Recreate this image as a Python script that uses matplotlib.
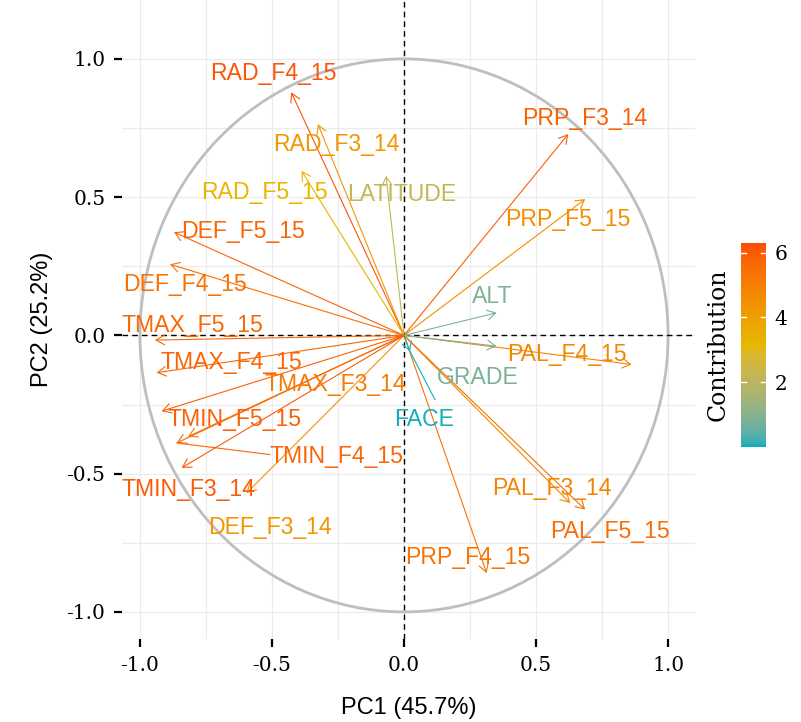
"""PCA variable correlation circle (PC1 vs PC2), coloured by contribution."""

import numpy as np
import matplotlib
matplotlib.use("Agg")
import matplotlib.pyplot as plt
from matplotlib.colors import ListedColormap, Normalize, to_rgb
from matplotlib.patches import FancyArrowPatch, Circle
from matplotlib.ticker import MultipleLocator, FormatStrFormatter

# ---- data ----------------------------------------------------------------
variables = [
    "RAD_F4_15", "RAD_F3_14", "RAD_F5_15", "LATITUDE",
    "DEF_F5_15", "DEF_F4_15", "DEF_F3_14",
    "TMAX_F5_15", "TMAX_F4_15", "TMAX_F3_14",
    "TMIN_F5_15", "TMIN_F4_15", "TMIN_F3_14",
    "PRP_F3_14", "PRP_F5_15", "PRP_F4_15",
    "PAL_F4_15", "PAL_F3_14", "PAL_F5_15",
    "ALT", "GRADE", "FACE",
]
pc1 = [-0.427, -0.326, -0.388, -0.068,
       -0.871, -0.886, -0.596,
       -0.943, -0.937, -0.818,
       -0.918, -0.861, -0.842,
       0.622, 0.686, 0.313,
       0.862, 0.629, 0.686,
       0.351, 0.351, 0.023]
pc2 = [0.879, 0.764, 0.595, 0.577,
       0.373, 0.257, -0.570,
       -0.017, -0.135, -0.366,
       -0.274, -0.389, -0.479,
       0.728, 0.493, -0.860,
       -0.105, -0.606, -0.630,
       0.082, -0.039, -0.058]
contrib = [6.12, 4.30, 3.24, 2.17,
           5.76, 5.46, 4.36,
           5.70, 5.74, 5.15,
           5.88, 5.72, 6.01,
           5.88, 4.57, 5.37,
           4.83, 4.89, 5.56,
           0.83, 0.80, 0.03]
# repelled label positions
label_x = [-0.496, -0.258, -0.527, -0.008,
           -0.610, -0.830, -0.508,
           -0.803, -0.652, -0.261,
           -0.640, -0.254, -0.818,
           0.686, 0.621, 0.242,
           0.617, 0.561, 0.780,
           0.333, 0.280, 0.076]
label_y = [0.946, 0.692, 0.518, 0.511,
           0.377, 0.185, -0.696,
           0.034, -0.098, -0.178,
           -0.304, -0.438, -0.558,
           0.783, 0.420, -0.805,
           -0.069, -0.552, -0.709,
           0.142, -0.152, -0.304]
# labels that ggrepel tied back to their point with a segment
segments = {"TMIN_F4_15": (-0.508, -0.431), "FACE": (0.117, -0.232)}

PC1_PCT = 45.7
PC2_PCT = 25.2
CBAR_TICKS = [2, 4, 6]

# ---- colour scale: gradient interpolated in CIE Lab (like ggplot) --------
GRADIENT = ["#00AFBB", "#E7B800", "#FC4E07"]
WHITE = np.array([0.95047, 1.0, 1.08883])
M = np.array([[0.4124, 0.3576, 0.1805],
              [0.2126, 0.7152, 0.0722],
              [0.0193, 0.1192, 0.9505]])


def rgb_to_lab(rgb):
    c = np.asarray(rgb, dtype=float)
    lin = np.where(c <= 0.04045, c / 12.92, ((c + 0.055) / 1.055) ** 2.4)
    xyz = (M @ lin) / WHITE
    f = np.where(xyz > 0.008856, np.cbrt(xyz), 7.787 * xyz + 16 / 116)
    return np.array([116 * f[1] - 16, 500 * (f[0] - f[1]), 200 * (f[1] - f[2])])


def lab_to_rgb(lab):
    L, a, b = lab
    fy = (L + 16) / 116
    f = np.array([fy + a / 500, fy, fy - b / 200])
    xyz = np.where(f ** 3 > 0.008856, f ** 3, (f - 16 / 116) / 7.787) * WHITE
    lin = np.linalg.solve(M, xyz)
    lin = np.clip(lin, 0, 1)
    c = np.where(lin <= 0.0031308, 12.92 * lin, 1.055 * lin ** (1 / 2.4) - 0.055)
    return np.clip(c, 0, 1)


stops = [rgb_to_lab(to_rgb(h)) for h in GRADIENT]
lut = []
for t in np.linspace(0, 1, 256):
    seg = min(int(t * 2), 1)
    u = t * 2 - seg
    lut.append(lab_to_rgb(stops[seg] * (1 - u) + stops[seg + 1] * u))
cmap = ListedColormap(lut)
norm = Normalize(vmin=0.0, vmax=6.3)

SANS = "Liberation Sans"
SERIF = "DejaVu Serif"
GRID_COL = "#EBEBEB"

fig = plt.figure(figsize=(8.01, 7.22), dpi=100)
ax = fig.add_axes([122 / 801, 1 - 639 / 722, 573 / 801, 639 / 722])

ax.set_xlim(-1.068, 1.102)
ax.set_ylim(-1.098, 1.213)
for side in ax.spines.values():
    side.set_visible(False)
ax.xaxis.set_major_locator(MultipleLocator(0.5))
ax.yaxis.set_major_locator(MultipleLocator(0.5))
ax.xaxis.set_minor_locator(MultipleLocator(0.25))
ax.yaxis.set_minor_locator(MultipleLocator(0.25))
ax.grid(True, which="both", color=GRID_COL, linewidth=0.9, zorder=0)
ax.set_axisbelow(True)
ax.tick_params(which="major", length=6, width=1.6, color="black",
               labelsize=14.5, pad=6)
ax.tick_params(which="minor", length=0)
ax.xaxis.set_major_formatter(FormatStrFormatter("%.1f"))
ax.yaxis.set_major_formatter(FormatStrFormatter("%.1f"))
for lab in ax.get_xticklabels() + ax.get_yticklabels():
    lab.set_family(SERIF)

# correlation circle and reference axes
ax.add_patch(Circle((0, 0), 1.0, fill=False, edgecolor="#BEBEBE",
                    linewidth=2.0, zorder=1))
ax.axhline(0, color="black", linestyle=(0, (4, 3)), linewidth=1.0, zorder=2)
ax.axvline(0, color="black", linestyle=(0, (4, 3)), linewidth=1.0, zorder=2)

for name, x, y, c, lx, ly in zip(variables, pc1, pc2, contrib,
                                 label_x, label_y):
    col = cmap(norm(c))
    ax.add_patch(FancyArrowPatch(
        (0, 0), (x, y), arrowstyle="->,head_length=0.6,head_width=0.35",
        mutation_scale=10, linewidth=0.8, color=col,
        shrinkA=0, shrinkB=0, zorder=3))
    if name in segments:
        sx, sy = segments[name]
        ax.plot([x, sx], [y, sy], color=col, linewidth=0.8, zorder=3)
    ax.text(lx, ly, name, color=col, fontsize=16.6, family=SANS,
            ha="center", va="center", zorder=4)

ax.set_xlabel(f"PC1 ({PC1_PCT}%)", family=SANS, fontsize=17, labelpad=16)
ax.set_ylabel(f"PC2 ({PC2_PCT}%)", family=SANS, fontsize=17, labelpad=10)

# colour bar legend
cax = fig.add_axes([741 / 801, 1 - 447 / 722, 25 / 801, 204 / 722])
grad = np.linspace(norm.vmin, norm.vmax, 256).reshape(-1, 1)
cax.imshow(grad, aspect="auto", origin="lower", cmap=cmap, norm=norm,
           extent=[0, 1, norm.vmin, norm.vmax])
for v in CBAR_TICKS:
    cax.plot([0, 0.2], [v, v], color="white", linewidth=1.0)
    cax.plot([0.8, 1], [v, v], color="white", linewidth=1.0)
cax.set_xlim(0, 1)
cax.set_ylim(norm.vmin, norm.vmax)
cax.set_xticks([])
cax.set_yticks(CBAR_TICKS)
cax.yaxis.tick_right()
cax.tick_params(length=0, labelsize=14.5, pad=6)
for lab in cax.get_yticklabels():
    lab.set_family(SERIF)
for side in cax.spines.values():
    side.set_visible(False)
cax.yaxis.set_label_position("left")
cax.set_ylabel("Contribution", family=SERIF, fontsize=17, labelpad=8)

fig.savefig("out.png", dpi=100)
